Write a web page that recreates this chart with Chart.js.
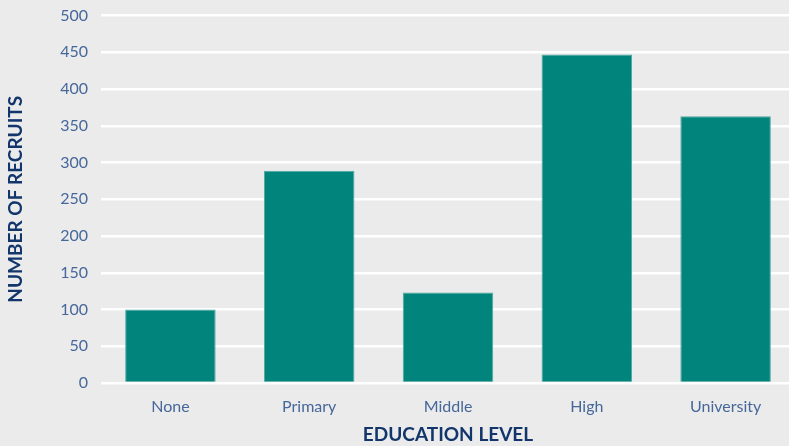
<!DOCTYPE html>
<html>
<head>
<meta charset="utf-8">
<script src="https://cdn.jsdelivr.net/npm/chart.js@4.4.1/dist/chart.umd.min.js"></script>
<style>
  html, body { margin: 0; padding: 0; background: #ebebeb; overflow: hidden; }
  /* plot runs a few px past the right and top edges, as in the source image */
  #wrap { width: 795px; height: 453px; margin-top: -7px; position: relative; }
</style>
</head>
<body>
<div id="wrap"><canvas id="chart"></canvas></div>
<script>
// ── Data ──
const levels = ["None", "Primary", "Middle", "High", "University"];
const recruits = [100, 289, 123, 447, 363];

// ── Style ──
const TEAL = "#00847b", NAVY = "#12366b", TICK = "#46679a", GRID = "#ffffff";
const FONT = "Lato, 'Open Sans', sans-serif";

new Chart(document.getElementById("chart"), {
  type: "bar",
  data: {
    labels: levels,
    datasets: [{
      data: recruits,
      backgroundColor: TEAL,
      borderColor: "#4fa9a2",
      borderWidth: { top: 1, left: 1, right: 1, bottom: 0 },
      categoryPercentage: 0.652,
      barPercentage: 1
    }]
  },
  options: {
    responsive: true,
    maintainAspectRatio: false,
    animation: false,
    layout: { padding: { top: 0, right: 0, bottom: 0, left: 4 } },
    plugins: { legend: { display: false }, tooltip: { enabled: false } },
    scales: {
      x: {
        grid: { display: false, drawTicks: false },
        border: { display: false },
        ticks: { color: TICK, font: { family: FONT, size: 16 }, padding: 14 },
        title: {
          display: true,
          text: "EDUCATION LEVEL",
          color: NAVY,
          font: { family: FONT, size: 19, weight: "bold" },
          padding: { top: 6, bottom: 0 }
        },
        afterFit: (s) => { s.height = 63; }
      },
      y: {
        min: 0,
        max: 500,
        ticks: { stepSize: 50, color: TICK, font: { family: FONT, size: 16 }, padding: 13 },
        grid: { color: GRID, lineWidth: 2.5, drawTicks: false },
        border: { display: false },
        title: {
          display: true,
          text: "NUMBER OF RECRUITS",
          color: NAVY,
          font: { family: FONT, size: 19, weight: "bold" },
          padding: { top: 0, bottom: 16 }
        },
        afterFit: (s) => { s.width = 97; }
      }
    }
  }
});
</script>
</body>
</html>
